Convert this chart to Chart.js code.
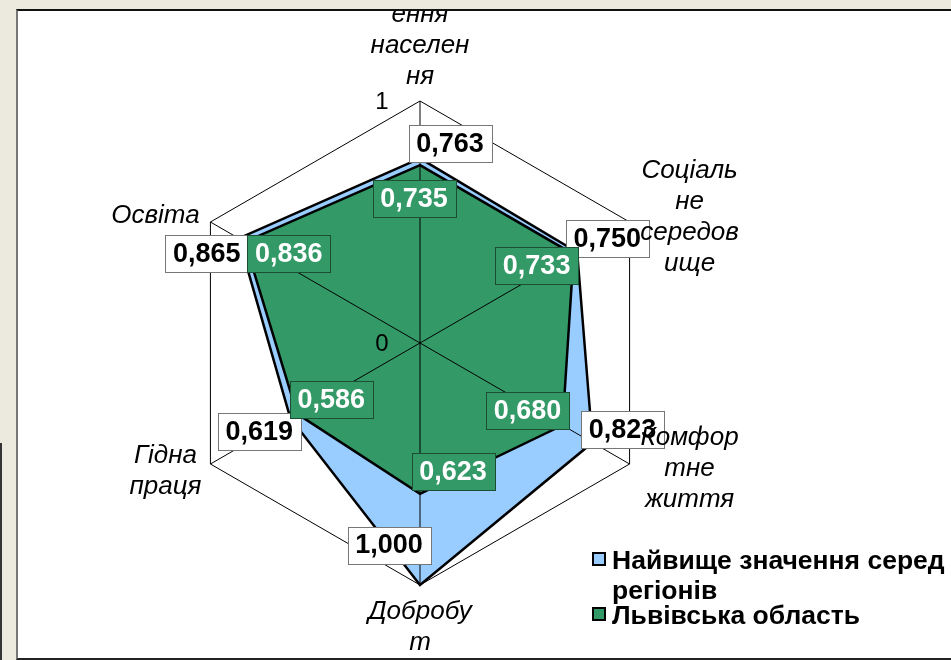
<!DOCTYPE html>
<html>
<head>
<meta charset="utf-8">
<script src="https://cdn.jsdelivr.net/npm/chart.js@4/dist/chart.umd.min.js"></script>
<style>
  html, body { margin: 0; padding: 0; }
  body { width: 951px; height: 660px; background: #ECE9DF; position: relative; overflow: hidden; }
  #leftLine { position: absolute; left: 0; top: 443px; width: 2px; height: 217px; background: #333; }
  #frame { position: absolute; left: 16px; top: 9px; width: 960px; height: 647px; background: #fff;
           border-top: 2px solid #111; border-left: 2px solid #777; border-bottom: 2px solid #222; }
  #wrap { position: absolute; left: 0; top: 0; width: 951px; height: 660px; }
</style>
</head>
<body>
<div id="leftLine"></div>
<div id="frame"></div>
<div id="wrap"><canvas id="radarChart"></canvas></div>
<script>
// Data
const categories = [
    ['Відтвор', 'ення', 'населен', 'ня'],
    ['Соціаль', 'не', 'середов', 'ище'],
    ['Комфор', 'тне', 'життя'],
    ['Добробу', 'т'],
    ['Гідна', 'праця'],
    ['Освіта']
];
const highestValues = [0.763, 0.750, 0.823, 1.000, 0.619, 0.865];
const lvivValues = [0.735, 0.733, 0.680, 0.623, 0.586, 0.836];
const seriesNames = [['Найвище значення серед', 'регіонів'], ['Львівська область']];
const tickValues = [0, 1];

// label placement (offsets from the point, px)
const highestOffsets = [[30, -15], [30, -14], [30, -13], [-31, -40], [-31, 14], [-32, 15]];
const lvivOffsets = [[-6, 33], [-37, 11], [-35, -15], [33, -22], [34, -14], [44, 12]];
const catOffsets = [[0, -71], [60, -5], [60, 5], [0, 42], [-45, 7], [-55, -6]];

const BLUE = '#99CCFF';
const GREEN = '#339966';

function fmt(v) {
    return v.toFixed(3).replace('.', ',');
}

function drawBox(ctx, x, y, text, fill, stroke, color) {
    ctx.font = 'bold 27px "Liberation Sans", Arial, sans-serif';
    const w = 83, h = 37;
    ctx.fillStyle = fill;
    ctx.fillRect(Math.round(x - w / 2) + 0.5, Math.round(y - h / 2) + 0.5, w, h);
    ctx.strokeStyle = stroke;
    ctx.lineWidth = 1;
    ctx.strokeRect(Math.round(x - w / 2) + 0.5, Math.round(y - h / 2) + 0.5, w, h);
    ctx.fillStyle = color;
    ctx.textAlign = 'center';
    ctx.textBaseline = 'middle';
    ctx.fillText(text, x, y + 1);
}

const overlayPlugin = {
    id: 'overlay',
    afterDraw(chart) {
        const ctx = chart.ctx;
        const scale = chart.scales.r;
        ctx.save();
        // keep text inside the white frame
        ctx.beginPath();
        ctx.rect(18, 11, 951, 645);
        ctx.clip();

        // tick labels left of the axis
        ctx.font = '24px "Liberation Sans", Arial, sans-serif';
        ctx.fillStyle = '#000';
        ctx.textAlign = 'center';
        ctx.textBaseline = 'middle';
        tickValues.forEach(v => {
            const p = scale.getPointPositionForValue(0, v);
            ctx.fillText(String(v), p.x - 38, p.y + 1);
        });

        // value labels
        highestValues.forEach((v, i) => {
            const p = scale.getPointPositionForValue(i, v);
            drawBox(ctx, p.x + highestOffsets[i][0], p.y + highestOffsets[i][1], fmt(v), '#fff', '#777', '#000');
        });
        lvivValues.forEach((v, i) => {
            const p = scale.getPointPositionForValue(i, v);
            drawBox(ctx, p.x + lvivOffsets[i][0], p.y + lvivOffsets[i][1], fmt(v), GREEN, '#1d4d33', '#fff');
        });

        // category labels (on top of the value boxes)
        ctx.font = 'italic 26px "Liberation Sans", Arial, sans-serif';
        ctx.fillStyle = '#000';
        ctx.textAlign = 'center';
        ctx.textBaseline = 'middle';
        categories.forEach((lines, i) => {
            const p = scale.getPointPosition(i, scale.drawingArea);
            const cx = p.x + catOffsets[i][0];
            const cy = p.y + catOffsets[i][1];
            const lh = 31;
            const top = cy - (lines.length - 1) * lh / 2;
            lines.forEach((ln, k) => ctx.fillText(ln, cx, top + k * lh));
        });

        // legend
        ctx.lineWidth = 2;
        ctx.strokeStyle = '#000';
        ctx.fillStyle = BLUE;
        ctx.fillRect(593, 553, 12, 12);
        ctx.strokeRect(593, 553, 12, 12);
        ctx.fillStyle = GREEN;
        ctx.fillRect(593, 608, 12, 12);
        ctx.strokeRect(593, 608, 12, 12);
        ctx.font = 'bold 26.5px "Liberation Sans", Arial, sans-serif';
        ctx.fillStyle = '#000';
        ctx.textAlign = 'left';
        ctx.textBaseline = 'alphabetic';
        ctx.fillText(seriesNames[0][0], 612, 569);
        ctx.fillText(seriesNames[0][1], 612, 599);
        ctx.fillText(seriesNames[1][0], 612, 624);

        ctx.restore();
    }
};

function setupRadarChart() {
    const ctx = document.getElementById('radarChart');
    new Chart(ctx, {
        type: 'radar',
        data: {
            labels: categories,
            datasets: [{
                label: seriesNames[0].join(' '),
                data: highestValues,
                backgroundColor: BLUE,
                borderColor: '#000',
                borderWidth: 2.5,
                pointRadius: 0,
                order: 2
            }, {
                label: seriesNames[1][0],
                data: lvivValues,
                backgroundColor: GREEN,
                borderColor: '#000',
                borderWidth: 2.5,
                pointRadius: 0,
                order: 1
            }]
        },
        options: {
            responsive: false,
            animation: false,
            layout: {
                padding: { left: 178, top: 101, right: 289, bottom: 75 }
            },
            plugins: {
                legend: { display: false },
                tooltip: { enabled: false }
            },
            scales: {
                r: {
                    min: 0,
                    max: 1,
                    ticks: { display: false, stepSize: 1 },
                    pointLabels: { display: false },
                    grid: { color: '#000', lineWidth: 1, z: 1 },
                    angleLines: { color: '#000', lineWidth: 1 }
                }
            }
        },
        plugins: [overlayPlugin]
    });
}

document.addEventListener('DOMContentLoaded', function() {
    const c = document.getElementById('radarChart');
    c.width = 951;
    c.height = 660;
    c.style.width = '951px';
    c.style.height = '660px';
    setupRadarChart();
});
</script>
</body>
</html>
